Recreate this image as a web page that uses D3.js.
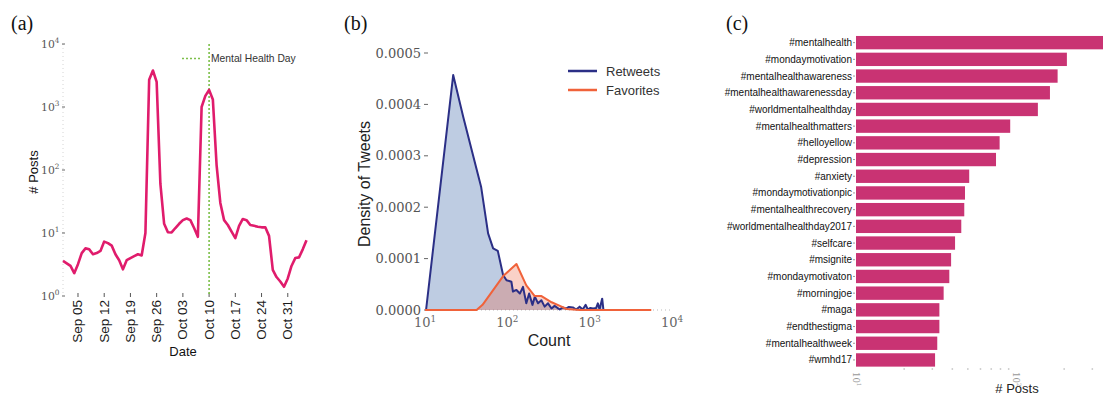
<!DOCTYPE html>
<html><head><meta charset="utf-8">
<script src="https://cdn.jsdelivr.net/npm/d3@7"></script>
<style>body{margin:0;background:#fff} svg{display:block}</style>
</head><body>
<svg id="chart" width="1103" height="396"></svg>
<script>
// ---------- DATA ----------
// (a) daily number of posts, starting 2017-09-01
const postStart = "2017-09-01";
const postCounts = [3.6,3.3,3.0,2.3,3.2,4.8,5.7,5.5,4.6,4.8,5.2,7.3,6.9,6.3,4.6,3.7,2.65,3.7,4.0,4.3,
  4.6,4.4,10,2700,3800,2500,60,14,10.3,10.2,12,14,16,17,16,12,8.7,1000,1500,1870,
  1320,120,30,16,13.4,10.5,8.3,13,16.7,16,13.4,13,12.6,12.3,12.3,9,2.6,2.0,1.7,1.4,
  1.9,3.0,4.0,4.1,5.5,7.7];
const dateTicks = ["2017-09-05","2017-09-12","2017-09-19","2017-09-26","2017-10-03","2017-10-10","2017-10-17","2017-10-24","2017-10-31"];
const dateTickLabels = ["Sep 05","Sep 12","Sep 19","Sep 26","Oct 03","Oct 10","Oct 17","Oct 24","Oct 31"];
const postTickExps = [0,1,2,3,4];
const mentalHealthDay = "2017-10-10";

// (b) density of tweets
const retweetCount =   [10.3,22,29.1,44.2,48,58.4,67.2,76.6,88.8,97.7,112,117,129,142,155,170,184,202,216,236,259,284,312,344,375,433,470,521,560,625,687,755,823,894,950,1020,1099,1200,1257,1320,1416,1420,1470];
const retweetDensity = [0,0.000457,0.000376,0.000262,0.00024,0.000149,0.00012,0.000115,0.000068,0.000058,0.000055,0.000036,0.000039,0.000032,0.000045,0.000013,0.000032,0.00001,0.000026,0.000013,0.000019,0.0000065,0.000013,0.000003,0.000008,0.000001,0.000005,0.000003,0.000006,0.000005,0.000001,0.0000065,0.000001,0.00001,0.000001,0.000004,0.000003,0.000004,0.000013,0.000001,0.000022,0.000022,0];
const favoriteCount =   [10,42.3,50,89,129,170,215,260,345,435,525,755,5600];
const favoriteDensity = [0,0,0.00001,0.000066,0.0000895,0.000048,0.000027,0.000027,0.000015,0.000008,0.000002,0,0];
const densityTicks = [0,0.0001,0.0002,0.0003,0.0004,0.0005];
const countTickExps = [1,2,3,4];

// (c) top hashtags
const hashtags = ["#mentalhealth","#mondaymotivation","#mentalhealthawareness","#mentalhealthawarenessday","#worldmentalhealthday","#mentalhealthmatters","#helloyellow","#depression","#anxiety","#mondaymotivationpic","#mentalhealthrecovery","#worldmentalhealthday2017","#selfcare","#msignite","#mondaymotivaton","#morningjoe","#maga","#endthestigma","#mentalhealthweek","#wmhd17"];
const hashtagPosts = [380,208,182,163,137,92,79,75,51,48,47.5,45.5,41.6,39.3,38.3,35.3,33.2,33.2,32.2,31.2];
const hashtagTickExps = [1,2];

// ---------- DRAW ----------
const svg = d3.select("#chart");
const SANS = "'Liberation Sans', Arial, Helvetica, sans-serif";
const SERIF = "'DejaVu Serif', serif";
const parse = d3.timeParse("%Y-%m-%d");

function powLabel(g, exp, size, color) {
  const t = g.append("text").attr("font-family", SERIF).attr("font-size", size).attr("fill", color);
  t.append("tspan").text("10");
  t.append("tspan").attr("font-size", size * 0.68).attr("dy", -size * 0.42).text(exp);
  return t;
}

// Panel letters
[["(a)", 11], ["(b)", 344], ["(c)", 726]].forEach(([s, x]) => {
  svg.append("text").attr("x", x).attr("y", 30).attr("font-family", "'Liberation Serif', 'Times New Roman', serif")
    .attr("font-size", 20).attr("fill", "#111").text(s);
});

// ===== Panel (a) =====
{
  const startDate = parse(postStart);
  const data = postCounts.map((v, i) => ({ d: d3.timeDay.offset(startDate, i), v }));
  const x = d3.scaleTime().domain([startDate, d3.timeDay.offset(startDate, postCounts.length - 1)]).range([63, 306.5]);
  const y = d3.scaleLog().domain([1, 10000]).range([296, 44]);
  const g = svg.append("g");

  g.append("line").attr("x1", 63).attr("x2", 63).attr("y1", 44).attr("y2", 296)
    .attr("stroke", "#d4d4d4").attr("stroke-dasharray", "1,3");

  postTickExps.forEach(e => {
    const yy = y(Math.pow(10, e));
    const t = powLabel(g, e, 10.8, "#555");
    t.attr("x", 59.5).attr("y", yy + 3.8).attr("text-anchor", "end");
    g.append("line").attr("x1", 62).attr("x2", 65).attr("y1", yy).attr("y2", yy).attr("stroke", "#666");
  });

  dateTicks.forEach((s, i) => {
    const xx = x(parse(s));
    g.append("line").attr("x1", xx).attr("x2", xx).attr("y1", 293).attr("y2", 297).attr("stroke", "#555");
    g.append("text").attr("transform", `translate(${xx + 4.5},300) rotate(-90)`)
      .attr("text-anchor", "end").attr("font-family", SANS).attr("font-size", 13.5).attr("fill", "#1a1a1a")
      .text(dateTickLabels[i]);
  });

  const mx = x(parse(mentalHealthDay));
  g.append("line").attr("x1", mx).attr("x2", mx).attr("y1", 44).attr("y2", 296)
    .attr("stroke", "#7dbf4a").attr("stroke-width", 1.6).attr("stroke-dasharray", "2,2");

  g.append("path").datum(data)
    .attr("d", d3.line().x(d => x(d.d)).y(d => y(d.v)))
    .attr("fill", "none").attr("stroke", "#e01c6c").attr("stroke-width", 2.6).attr("stroke-linejoin", "round");

  g.append("line").attr("x1", 182).attr("x2", 201).attr("y1", 58.5).attr("y2", 58.5)
    .attr("stroke", "#7dbf4a").attr("stroke-width", 1.6).attr("stroke-dasharray", "2,2");
  g.append("text").attr("x", 211).attr("y", 62).attr("font-family", SANS).attr("font-size", 10.3).attr("fill", "#333").text("Mental Health Day");

  g.append("text").attr("transform", "translate(38,172) rotate(-90)").attr("text-anchor", "middle")
    .attr("font-family", SANS).attr("font-size", 13).attr("fill", "#111").text("# Posts");
  g.append("text").attr("x", 183).attr("y", 356).attr("text-anchor", "middle")
    .attr("font-family", SANS).attr("font-size", 13).attr("fill", "#111").text("Date");
}

// ===== Panel (b) =====
{
  const x = d3.scaleLog().domain([10, 10000]).range([425, 672]);
  const y = d3.scaleLinear().domain([0, 0.0005]).range([310, 53]);
  const g = svg.append("g");

  g.append("line").attr("x1", 425).attr("x2", 672).attr("y1", 310).attr("y2", 310)
    .attr("stroke", "#bbb").attr("stroke-dasharray", "1,3");

  densityTicks.forEach(v => {
    const yy = y(v);
    g.append("text").attr("x", 421).attr("y", yy + 4.5).attr("text-anchor", "end")
      .attr("font-family", SERIF).attr("font-size", 13).attr("fill", "#555").text(v.toFixed(4));
    g.append("line").attr("x1", 424).attr("x2", 428).attr("y1", yy).attr("y2", yy).attr("stroke", "#666");
  });
  countTickExps.forEach(e => {
    const xx = x(Math.pow(10, e));
    const t = powLabel(g, e, 13, "#666");
    t.attr("x", xx).attr("y", 327).attr("text-anchor", "middle");
  });

  const rt = retweetCount.map((c, i) => ({ c, d: retweetDensity[i] }));
  const fv = favoriteCount.map((c, i) => ({ c, d: favoriteDensity[i] }));
  const area = d3.area().x(d => x(d.c)).y0(y(0)).y1(d => y(d.d));
  const line = d3.line().x(d => x(d.c)).y(d => y(d.d));

  g.append("path").datum(rt).attr("d", area).attr("fill", "#4c72b0").attr("fill-opacity", 0.36);
  g.append("path").datum(fv).attr("d", area).attr("fill", "#ee5a35").attr("fill-opacity", 0.28);
  g.append("path").datum(rt).attr("d", line).attr("fill", "none").attr("stroke", "#2b2f86").attr("stroke-width", 2).attr("stroke-linejoin", "round");
  g.append("path").datum(fv).attr("d", line).attr("fill", "none").attr("stroke", "#f0623a").attr("stroke-width", 2).attr("stroke-linejoin", "round");

  g.append("line").attr("x1", 568).attr("x2", 597).attr("y1", 71).attr("y2", 71).attr("stroke", "#2b2f86").attr("stroke-width", 2.5);
  g.append("text").attr("x", 606).attr("y", 75.5).attr("font-family", SANS).attr("font-size", 13).attr("fill", "#333").text("Retweets");
  g.append("line").attr("x1", 568).attr("x2", 597).attr("y1", 90).attr("y2", 90).attr("stroke", "#f0623a").attr("stroke-width", 2.5);
  g.append("text").attr("x", 606).attr("y", 94.5).attr("font-family", SANS).attr("font-size", 13).attr("fill", "#333").text("Favorites");

  g.append("text").attr("transform", "translate(370,184) rotate(-90)").attr("text-anchor", "middle")
    .attr("font-family", SANS).attr("font-size", 16).attr("fill", "#222").text("Density of Tweets");
  g.append("text").attr("x", 549).attr("y", 346).attr("text-anchor", "middle")
    .attr("font-family", SANS).attr("font-size", 16).attr("fill", "#222").text("Count");
}

// ===== Panel (c) =====
{
  const x = d3.scaleLog().domain([10, 1000]).range([856, 1176]);
  const y = d3.scaleBand().domain(hashtags).range([34.3, 368.3]).paddingInner(0.2).paddingOuter(0.1);
  const g = svg.append("g");

  [20,30,40,50,60,70,80,90,200,300].forEach(v => {
    g.append("circle").attr("cx", x(v)).attr("cy", 369).attr("r", 0.9).attr("fill", "#ccc");
  });

  g.selectAll("rect.bar").data(hashtags).join("rect").attr("class", "bar")
    .attr("x", x(10)).attr("y", d => y(d))
    .attr("width", (d, i) => x(hashtagPosts[i]) - x(10))
    .attr("height", y.bandwidth()).attr("fill", "#c93373");

  g.selectAll("text.lab").data(hashtags).join("text").attr("class", "lab")
    .attr("x", 852).attr("y", d => y(d) + y.bandwidth() / 2 + 3.5).attr("text-anchor", "end")
    .attr("font-family", SANS).attr("font-size", 10).attr("fill", "#111").text(d => d);
  hashtags.forEach(h => {
    g.append("line").attr("x1", 853).attr("x2", 855).attr("y1", y(h) + y.bandwidth() / 2).attr("y2", y(h) + y.bandwidth() / 2).attr("stroke", "#999");
  });

  hashtagTickExps.forEach(e => {
    const xx = x(Math.pow(10, e));
    const t = powLabel(g, e, 8.5, "#999");
    t.attr("transform", `translate(${xx - 3},372) rotate(90)`).attr("text-anchor", "start");
  });

  g.append("text").attr("x", 1017).attr("y", 393).attr("text-anchor", "middle")
    .attr("font-family", SANS).attr("font-size", 13).attr("fill", "#222").text("# Posts");
}
</script>
</body></html>
